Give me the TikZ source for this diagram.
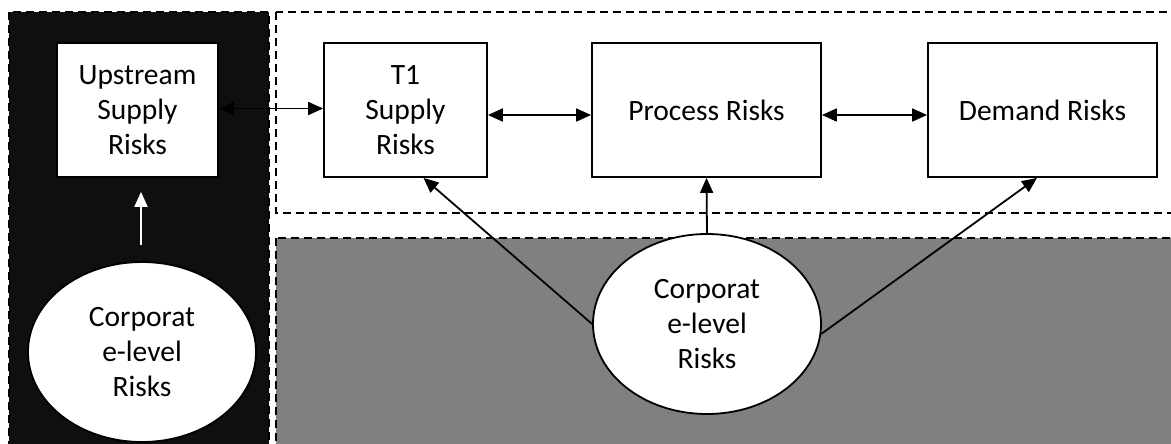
\documentclass[tikz,border=0pt]{standalone}
\usepackage{fontspec}
\setmainfont{Carlito}
\usetikzlibrary{arrows.meta,shapes.geometric}
\definecolor{panelblack}{HTML}{0F0F0F}
\definecolor{panelgray}{HTML}{808080}
\begin{document}
\begin{tikzpicture}[x=1pt,y=-1pt,
  lbl/.style={font=\fontsize{29.5}{35}\selectfont, align=center, inner sep=0pt},
  riskbox/.style={lbl, draw=black, line width=1.8pt, fill=white, minimum height=134pt},
  riskoval/.style={lbl, ellipse, draw=black, line width=1.8pt, fill=white, minimum width=228pt, minimum height=180pt},
  panel/.style={dash pattern=on 8pt off 5pt, line width=1.5pt},
  link/.style={line width=1.8pt, -{Triangle[length=15pt,width=13pt]}},
  duplex/.style={line width=1.8pt, {Triangle[length=15pt,width=13pt]}-{Triangle[length=15pt,width=13pt]}}
]
\useasboundingbox (0,0) rectangle (1171,444);
\clip (0,0) rectangle (1171,444);

% background panels
\draw[panel, fill=panelblack, draw=black] (9,12) rectangle (269,460);
\draw[panel, draw=black] (276,12) rectangle (1190,213);
\draw[panel, fill=panelgray, draw=black] (276,238) rectangle (1190,460);

% risk boxes
\node[riskbox, minimum width=161pt] (up) at (137.5,110) {Upstream\\Supply\\Risks};
\node[riskbox, minimum width=163pt] (t1) at (405.5,110) {T1\\Supply\\Risks};
\node[riskbox, minimum width=229pt] (proc) at (706.5,110) {Process Risks};
\node[riskbox, minimum width=229pt] (dem) at (1042.5,110) {Demand Risks};

% corporate-level risk ovals
\node[riskoval] (cl) at (142,352) {Corporat\\e-level\\Risks};
\node[riskoval] (cr) at (707,324) {Corporat\\e-level\\Risks};

% links between the boxes
\draw[duplex] ([yshift=1.5pt]up.east) -- ([yshift=1.5pt]t1.west);
\draw[duplex] ([yshift=-5pt]t1.east) -- ([yshift=-5pt]proc.west);
\draw[duplex] ([yshift=-5pt]proc.east) -- ([yshift=-5pt]dem.west);

% links from the ovals
\draw[link, draw=white, -{Triangle[length=15pt,width=13pt,fill=white]}, shorten <=16pt, shorten >=14pt]
  ([xshift=-1pt]cl.north) -- ([xshift=3.5pt]up.south);
\draw[link] (cr.west) -- ([xshift=18pt]t1.south);
\draw[link] (cr.north) -- (proc.south);
\draw[link] (cr.-5.5) -- ([xshift=-5.5pt]dem.south);
\end{tikzpicture}
\end{document}
